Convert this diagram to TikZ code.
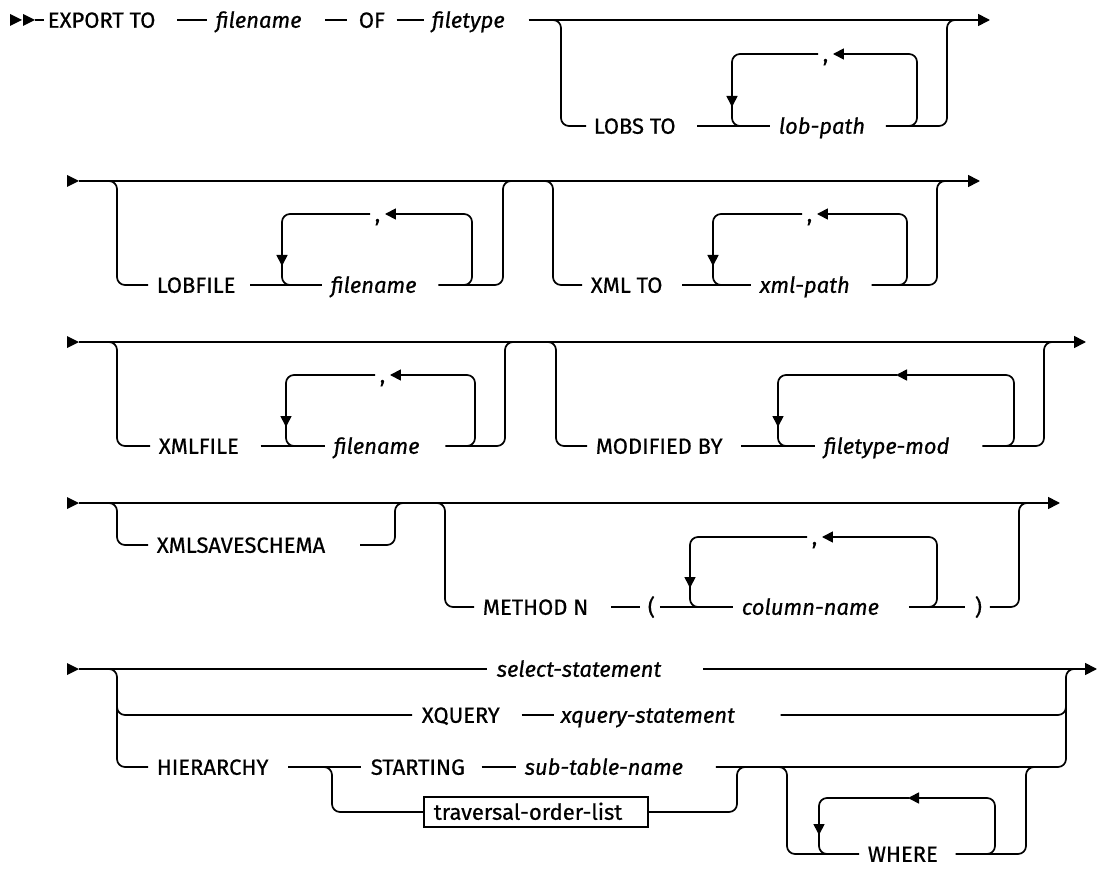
\documentclass[tikz,border=0pt]{standalone}
\usepackage{fontspec}
\IfFontExistsTF{FiraSans-Medium.otf}
  {\setmainfont{FiraSans-Medium.otf}[ItalicFont=FiraSans-MediumItalic.otf]}
  {\setmainfont{Fira Sans}[FakeBold=0.6]}
\usetikzlibrary{arrows.meta}
\tikzset{starttri/.pic={\fill (-12,-6) -- (0,0) -- (-12,6) -- cycle;}}
\begin{document}
\begin{tikzpicture}[x=1pt,y=-1pt,
  line width=1.7pt,
  txt/.style={inner sep=0pt, anchor=west, text height=15.5pt, text depth=0pt, font=\fontsize{22}{26}\selectfont},
  kw/.style={txt},
  var/.style={txt, font=\fontsize{22}{26}\selectfont\itshape},
  rc/.style={rounded corners=8pt},
  endarr/.style={-{Triangle[length=12pt,width=12pt]}},
  looparr/.style={-{Triangle[length=11pt,width=11pt]}},
]
\fill[white] (0,0) rectangle (1098,869);
\useasboundingbox (0,0) rectangle (1098,869);

% ---------------- Row 1 ----------------
\pic at (22,20) {starttri};
\pic at (35,20) {starttri};
\coordinate (s1) at (35,20);
\coordinate (e1) at (990,20);
\node[kw] (export) at (47,20) {EXPORT TO};
\node[var] (fn1) at (215,20) {filename};
\node[kw] (of) at (358,20) {OF};
\node[var] (ft) at (431,20) {filetype};
\draw (s1) -- ([xshift=-3pt]export.west);
\draw ([xshift=21pt]export.east) -- ([xshift=-8pt]fn1.west);
\draw ([xshift=23pt]fn1.east) -- ([xshift=-11pt]of.west);
\draw ([xshift=11pt]of.east) -- ([xshift=-7pt]ft.west);
\draw[endarr] ([xshift=23pt]ft.east) -- (e1);

\node[kw] (lobs) at (593,126) {LOBS TO};
\node[var] (lobpath) at (778,126) {lob-path};
\node[kw] (c1) at (822,54) {,};
\draw[rc] (545,20) -- (561,20) -- (561,126) -- ([xshift=-7pt]lobs.west);
\draw ([xshift=21pt]lobs.east) -- ([xshift=-8pt]lobpath.west);
\draw[rc] ([xshift=20pt]lobpath.east) -- (947,126) -- (947,20) -- (960,20);
\draw[rc,looparr] (900,126) -- (917,126) -- (917,54) -- ([xshift=4pt]c1.east);
\draw[rc,looparr] ([xshift=-4pt]c1.west) -- (732,54) -- (732,107);
\draw[rc] (732,98) -- (732,126) -- (745,126);

% ---------------- Row 2 ----------------
\pic at (79,181) {starttri};
\coordinate (s2) at (79,181);
\coordinate (e2) at (980,181);
\draw[endarr] (s2) -- (e2);
\node[kw] (lobfile) at (156,285) {LOBFILE};
\node[var] (fn2) at (330,285) {filename};
\node[kw] (c2) at (374,214) {,};
\draw[rc] (105,181) -- (117,181) -- (117,285) -- ([xshift=-8pt]lobfile.west);
\draw ([xshift=14pt]lobfile.east) -- ([xshift=-8pt]fn2.west);
\draw[rc] ([xshift=21pt]fn2.east) -- (503,285) -- (503,181) -- (515,181);
\draw[rc,looparr] (460,285) -- (472,285) -- (472,214) -- ([xshift=4pt]c2.east);
\draw[rc,looparr] ([xshift=-4pt]c2.west) -- (282,214) -- (282,266);
\draw[rc] (282,257) -- (282,285) -- (295,285);

\node[kw] (xmlto) at (590,285) {XML TO};
\node[var] (xmlpath) at (759,285) {xml-path};
\node[kw] (c3) at (806,214) {,};
\draw[rc] (541,181) -- (553,181) -- (553,285) -- ([xshift=-8pt]xmlto.west);
\draw ([xshift=19pt]xmlto.east) -- ([xshift=-8pt]xmlpath.west);
\draw[rc] ([xshift=21pt]xmlpath.east) -- (937,285) -- (937,181) -- (949,181);
\draw[rc,looparr] (895,285) -- (907,285) -- (907,214) -- ([xshift=4pt]c3.east);
\draw[rc,looparr] ([xshift=-4pt]c3.west) -- (713,214) -- (713,266);
\draw[rc] (713,257) -- (713,285) -- (726,285);

% ---------------- Row 3 ----------------
\pic at (79,342) {starttri};
\coordinate (s3) at (79,342);
\coordinate (e3) at (1086,342);
\draw[endarr] (s3) -- (e3);
\node[kw] (xmlfile) at (158,446) {XMLFILE};
\node[var] (fn3) at (333,446) {filename};
\node[kw] (c4) at (379,375) {,};
\draw[rc] (105,342) -- (117,342) -- (117,446) -- ([xshift=-8pt]xmlfile.west);
\draw ([xshift=21pt]xmlfile.east) -- ([xshift=-8pt]fn3.west);
\draw[rc] ([xshift=25pt]fn3.east) -- (505,446) -- (505,342) -- (517,342);
\draw[rc,looparr] (463,446) -- (475,446) -- (475,375) -- ([xshift=4pt]c4.east);
\draw[rc,looparr] ([xshift=-4pt]c4.west) -- (286,375) -- (286,427);
\draw[rc] (286,418) -- (286,446) -- (299,446);

\node[kw] (modby) at (595,446) {MODIFIED BY};
\node[var] (ftmod) at (823,446) {filetype-mod};
\coordinate (m1) at (896,375);
\draw[rc] (544,342) -- (556,342) -- (556,446) -- ([xshift=-8pt]modby.west);
\draw ([xshift=18pt]modby.east) -- ([xshift=-8pt]ftmod.west);
\draw[rc] ([xshift=32pt]ftmod.east) -- (1044,446) -- (1044,342) -- (1056,342);
\draw[rc,looparr] (1002,446) -- (1014,446) -- (1014,375) -- (m1);
\draw[rc,looparr] ([xshift=1pt]m1) -- (778,375) -- (778,427);
\draw[rc] (778,418) -- (778,446) -- (791,446);

% ---------------- Row 4 ----------------
\pic at (79,503) {starttri};
\coordinate (s4) at (79,503);
\coordinate (e4) at (1060,503);
\draw[endarr] (s4) -- (e4);
\node[kw] (xmls) at (156,545) {XMLSAVESCHEMA};
\draw[rc] (105,503) -- (117,503) -- (117,545) -- ([xshift=-8pt]xmls.west);
\draw[rc] ([xshift=34pt]xmls.east) -- (395,545) -- (395,503) -- (407,503);

\node[kw] (method) at (482,607) {METHOD N};
\node[kw] (lparen) at (647,607) {(};
\node[var] (colname) at (741,607) {column-name};
\node[kw] (rparen) at (974,607) {)};
\node[kw] (c5) at (811,537) {,};
\draw[rc] (433,503) -- (445,503) -- (445,607) -- ([xshift=-8pt]method.west);
\draw ([xshift=22pt]method.east) -- ([xshift=-7pt]lparen.west);
\draw ([xshift=4pt]lparen.east) -- ([xshift=-8pt]colname.west);
\draw ([xshift=29pt]colname.east) -- ([xshift=-9pt]rparen.west);
\draw[rc] ([xshift=7pt]rparen.east) -- (1019,607) -- (1019,503) -- (1031,503);
\draw[rc,looparr] (925,607) -- (937,607) -- (937,537) -- ([xshift=4pt]c5.east);
\draw[rc,looparr] ([xshift=-4pt]c5.west) -- (690,537) -- (690,588);
\draw[rc] (690,579) -- (690,607) -- (703,607);

% ---------------- Row 5 ----------------
\pic at (79,669) {starttri};
\coordinate (s5) at (79,669);
\coordinate (e5) at (1097,669);
\node[var] (select) at (496,669) {select-statement};
\draw (s5) -- ([xshift=-9pt]select.west);
\draw[endarr] ([xshift=41pt]select.east) -- (e5);

\node[kw] (xq) at (421,715) {XQUERY};
\node[var] (xqs) at (560,715) {xquery-statement};
\node[kw] (hier) at (156,767) {HIERARCHY};
\node[kw] (starting) at (370,767) {STARTING};
\node[var] (subtab) at (524,767) {sub-table-name};
\node[draw, anchor=west, inner xsep=10pt, inner ysep=7pt, text width=204pt, align=left,
      text height=15.5pt, text depth=0pt, font=\fontsize{22}{26}\selectfont] (trav) at (423,812) {traversal-order-list};
\node[kw] (where) at (867,854) {WHERE};
\coordinate (m2) at (908,798);

\draw[rc] (105,669) -- (117,669) -- (117,767) -- ([xshift=-8pt]hier.west);
\draw[rc] (117,700) -- (117,715) -- ([xshift=-9pt]xq.west);
\draw ([xshift=21pt]xq.east) -- ([xshift=-6pt]xqs.west);
\draw[rc] ([xshift=45pt]xqs.east) -- (1066,715) -- (1066,700);
\draw ([xshift=19pt]hier.east) -- ([xshift=-9pt]starting.west);
\draw[rc] (320,767) -- (332,767) -- (332,812) -- (trav.west);
\draw ([xshift=16pt]starting.east) -- ([xshift=-8pt]subtab.west);
\draw[rc] ([xshift=32pt]subtab.east) -- (1066,767) -- (1066,669) -- (1080,669);
\draw[rc] (trav.east) -- (737,812) -- (737,767) -- (749,767);
\draw[rc] (775,767) -- (787,767) -- (787,854) -- ([xshift=-8pt]where.west);
\draw[rc] ([xshift=17pt]where.east) -- (1026,854) -- (1026,767) -- (1038,767);
\draw[rc,looparr] (983,854) -- (995,854) -- (995,798) -- (m2);
\draw[rc,looparr] ([xshift=1pt]m2) -- (819,798) -- (819,835);
\draw[rc] (819,826) -- (819,854) -- (832,854);
\end{tikzpicture}
\end{document}
